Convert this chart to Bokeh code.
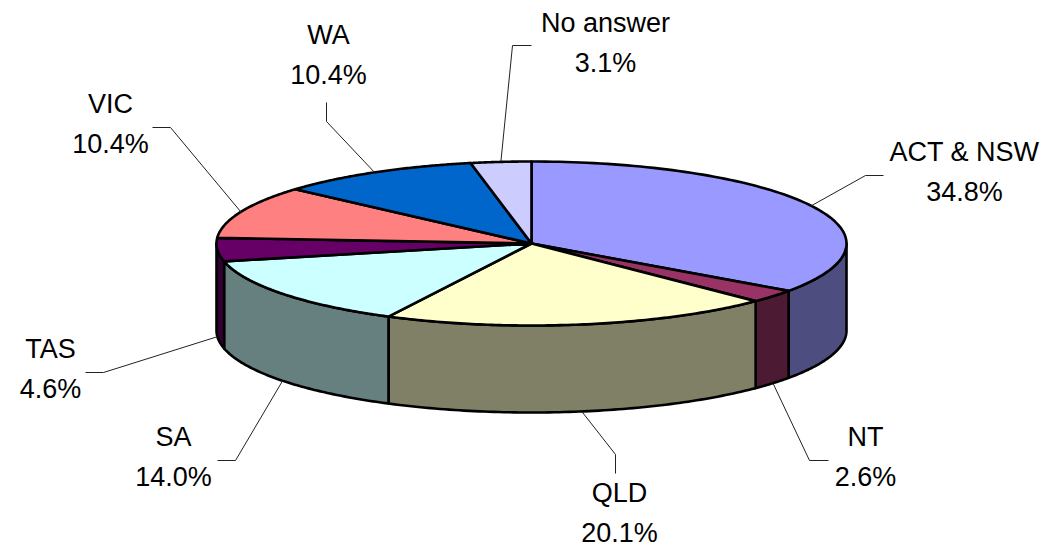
import numpy as np
from bokeh.plotting import figure
from bokeh.models import Range1d
from bokeh.core.properties import value
from bokeh.embed import file_html
from bokeh.resources import INLINE

# Data
categories = ["ACT & NSW", "NT", "QLD", "SA", "TAS", "VIC", "WA", "No answer"]
shares = [34.8, 2.6, 20.1, 14.0, 4.6, 10.4, 10.4, 3.1]

# Styles
top_colors = ["#9999FF", "#993366", "#FFFFCC", "#CCFFFF", "#660066", "#FF8080", "#0066CC", "#CCCCFF"]
side_colors = ["#4D4D80", "#4D1A33", "#808066", "#668080", "#330033", "#804040", "#003366", "#666680"]

# Layout (page pixels)
CX, CY, RX, RY, DEPTH = 531, 243, 315, 82, 87
label_x = [964, 865, 619, 173, 50, 110, 328, 605]
label_y = [151, 436, 492, 436, 348, 103, 34, 22]
LINE_GAP = 40
elbow_x = [865, 809, 615, 235, 103, 170, 326, 512]
elbow_y = [175, 460, 454, 460, 372, 127, 121, 45]
end_x = [883, 828, 615, 217, 85, 152, 326, 531]
end_y = [175, 460, 473, 460, 372, 127, 102, 45]

total = sum(shares)
edges = np.cumsum([0] + shares) / total * 2 * np.pi


def rim(a):
    return CX + RX * np.sin(a), CY - RY * np.cos(a)


p = figure(width=1041, height=548, x_range=Range1d(0, 1041), y_range=Range1d(548, 0),
           toolbar_location=None, output_backend="svg", min_border=0,
           outline_line_color=None, background_fill_color="white")
p.axis.visible = False
p.grid.visible = False

# Outer wall: only the front half of the rim shows
for i in range(len(shares)):
    a0, a1 = max(edges[i], np.pi / 2), min(edges[i + 1], 3 * np.pi / 2)
    if a1 <= a0:
        continue
    t = np.linspace(a0, a1, 80)
    x, y = rim(t)
    xs = np.concatenate([x, x[::-1]])
    ys = np.concatenate([y, y[::-1] + DEPTH])
    p.patch(xs, ys, fill_color=side_colors[i], line_color="black", line_width=2.6, line_join="round")

# Top face
for i in range(len(shares)):
    t = np.linspace(edges[i], edges[i + 1], 100)
    x, y = rim(t)
    xs = np.concatenate([[CX], x])
    ys = np.concatenate([[CY], y])
    p.patch(xs, ys, fill_color=top_colors[i], line_color="black", line_width=2.6, line_join="round")

# Leader lines start on the visible rim at each slice's middle angle
for i in range(len(shares)):
    mid = (edges[i] + edges[i + 1]) / 2
    sx, sy = rim(mid)
    if np.pi / 2 < mid < 3 * np.pi / 2:
        sy += DEPTH
    p.line([sx, elbow_x[i], end_x[i]], [sy, elbow_y[i], end_y[i]], line_color="#222222", line_width=1)

# Labels
font = value("Liberation Sans")
p.text(label_x, label_y, text=categories, text_font=font, text_font_size="27px",
       text_color="black", text_align="center", text_baseline="middle")
p.text(label_x, [y + LINE_GAP for y in label_y], text=[f"{v:.1f}%" for v in shares], text_font=font,
       text_font_size="27px", text_color="black", text_align="center", text_baseline="middle")

open("out.html", "w").write(file_html(p, INLINE))
